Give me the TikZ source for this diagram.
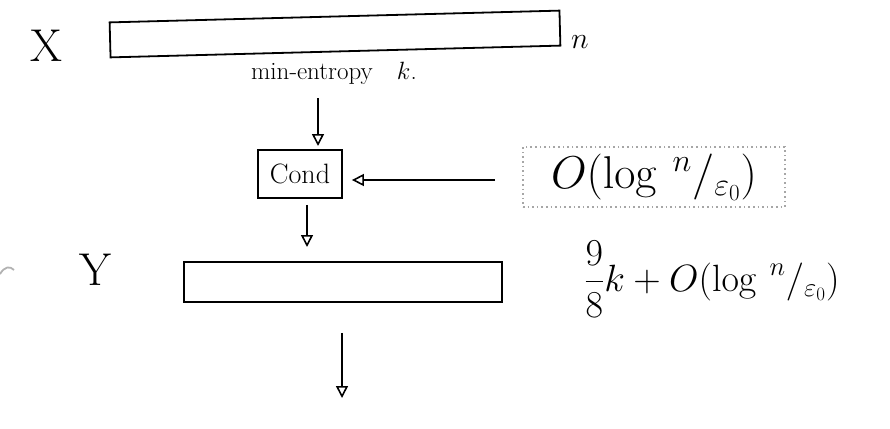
\RequirePackage{fix-cm}
\documentclass[tikz,border=0pt]{standalone}
\usetikzlibrary{arrows.meta}
\begin{document}
\begin{tikzpicture}[x=1pt,y=-1pt,
  ink/.style={line width=1.8pt,black},
  flow/.style={ink,-{Triangle[open,length=12pt,width=12pt,line width=1.6pt]}},
  bar/.style={draw,ink,inner sep=0pt},
  lbl/.style={inner sep=0pt}]
\useasboundingbox (0,0) rectangle (890,428);
% X
\node[lbl,font=\fontsize{46}{50}\selectfont] (xl) at (46,46) {X};
\node[bar,minimum width=450pt,minimum height=35pt,rotate=1.5] (xbox) at (335,34) {};
\node[lbl,font=\fontsize{30}{34}\selectfont] (nl) at (580,42) {$n$};
\node[lbl,font=\fontsize{25}{28}\selectfont] (me) at (334,73) {min-entropy\enspace\, $k$.};
% Cond
\node[bar,minimum width=84pt,minimum height=48pt,font=\fontsize{28}{32}\selectfont] (cond) at (300,174) {Cond};
\coordinate (a1s) at (318,98);
\draw[flow] (a1s) -- (318,146);
% seed
\node[draw=gray!70,line width=2pt,dash pattern=on 1.6pt off 3pt,minimum width=262pt,minimum height=60pt,inner sep=0pt,font=\fontsize{46}{50}\selectfont] (seed) at (654,177) {$O(\log\, {}^{n}/_{\varepsilon_0})$};
\coordinate (a2s) at (495,180);
\draw[flow] (a2s) -- ([xshift=9pt]cond.east |- a2s);
% Y
\coordinate (a3e) at (307,247);
\draw[flow] (cond.south -| a3e) ++(0,6) -- (a3e);
\node[lbl,font=\fontsize{46}{50}\selectfont] (yl) at (95,270) {Y};
\draw[gray!60,line width=1.8pt] (0,274) .. controls (5,266) and (10,266) .. (14,270);
\node[bar,minimum width=318pt,minimum height=40pt] (ybox) at (343,282) {};
\node[lbl,font=\fontsize{38}{42}\selectfont] (yt) at (712,279) {$\displaystyle\frac{9}{8}k + O(\log\, {}^{n}/_{\varepsilon_0})$};
\coordinate (a4e) at (342,398);
\draw[flow] (ybox.south -| a4e) ++(0,30) -- (a4e);
\end{tikzpicture}
\end{document}
